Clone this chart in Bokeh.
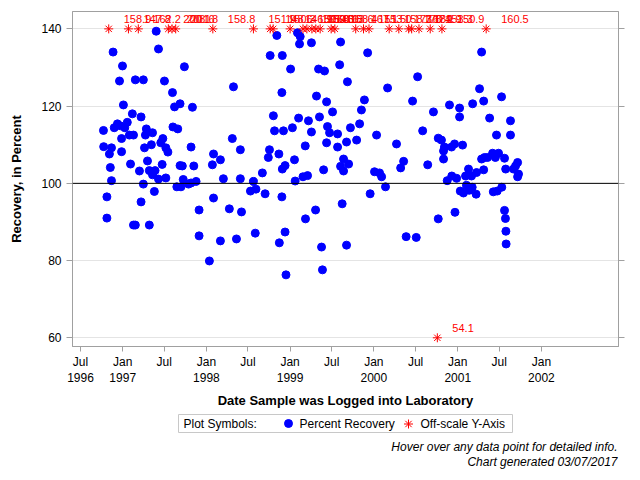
import numpy as np
import pandas as pd
from bokeh.plotting import figure
from bokeh.models import Range1d, FixedTicker, LinearAxis, Span, CustomJSTickFormatter
from bokeh.layouts import column
from bokeh.embed import file_html
from bokeh.resources import INLINE
from bokeh.core.properties import value

FONT = "Liberation Sans"

# ---------------- data ----------------
dates = [
 "1996-10-09","1996-10-10","1996-10-24","1996-10-24","1996-11-04","1996-11-08","1996-11-13","1996-11-13",
 "1996-11-20","1996-11-25","1996-12-09","1996-12-18","1996-12-21","1996-12-27","1996-12-27","1996-12-31",
 "1997-01-04","1997-01-10","1997-01-21","1997-01-30","1997-02-04","1997-02-12","1997-02-17","1997-02-17",
 "1997-02-25","1997-02-25","1997-03-15","1997-03-22","1997-03-22","1997-04-01","1997-04-01","1997-04-06",
 "1997-04-10","1997-04-14","1997-04-19","1997-04-27","1997-04-27","1997-05-06","1997-05-11","1997-05-11",
 "1997-05-19","1997-05-22","1997-05-27","1997-06-06","1997-06-06","1997-06-16","1997-06-22","1997-06-25",
 "1997-07-02","1997-07-08","1997-07-08","1997-07-17","1997-08-06","1997-08-08","1997-08-15","1997-08-25",
 "1997-08-29","1997-09-08","1997-09-08","1997-09-12","1997-09-18","1997-09-22","1997-09-27","1997-10-15",
 "1997-10-26","1997-10-26","1997-11-01","1997-11-07","1997-11-17","1997-11-30","1997-11-30",
 "1998-01-14","1998-01-27","1998-02-01","1998-02-01","1998-03-03","1998-03-03","1998-03-16","1998-04-11",
 "1998-04-24","1998-04-29","1998-05-12","1998-05-29","1998-05-29","1998-06-03","1998-07-12","1998-07-25",
 "1998-08-02","1998-08-05","1998-09-02","1998-09-14","1998-09-28","1998-10-03","1998-10-06","1998-10-20",
 "1998-10-25","1998-11-04","1998-11-13","1998-11-15","1998-11-26","1998-11-26","1998-11-28","1998-11-28",
 "1998-12-03","1998-12-10","1998-12-10","1998-12-14",
 "1999-01-03","1999-01-11","1999-01-20","1999-01-23","1999-02-02","1999-02-07","1999-02-11","1999-02-14",
 "1999-02-26","1999-03-08","1999-03-09","1999-03-18","1999-03-22","1999-04-04","1999-04-04","1999-04-22",
 "1999-04-26","1999-05-05","1999-05-09","1999-05-18","1999-05-22","1999-05-27","1999-05-31","1999-06-09",
 "1999-06-09","1999-06-13","1999-06-22","1999-07-05","1999-07-27","1999-07-27","1999-08-05","1999-08-09",
 "1999-08-09","1999-08-16","1999-08-22","1999-08-22","1999-09-04","1999-09-04","1999-09-08","1999-09-13",
 "1999-09-21","1999-10-18","1999-10-31","1999-11-08","1999-11-21","1999-12-05","1999-12-16",
 "2000-01-04","2000-01-13","2000-01-26","2000-02-04","2000-02-21","2000-03-01","2000-04-09","2000-04-27",
 "2000-05-10","2000-05-21","2000-06-18","2000-07-04","2000-07-10","2000-08-01","2000-08-23","2000-09-17",
 "2000-10-08","2000-10-08","2000-10-22","2000-10-31","2000-10-31","2000-11-04","2000-11-16","2000-11-26",
 "2000-12-05","2000-12-06","2000-12-18","2000-12-20","2000-12-27",
 "2001-01-09","2001-01-09","2001-01-12","2001-01-22","2001-01-26","2001-02-04","2001-02-08","2001-02-17",
 "2001-02-20","2001-03-02","2001-03-05","2001-03-07","2001-03-22","2001-03-24","2001-04-06","2001-04-15",
 "2001-04-15","2001-04-24","2001-04-24","2001-04-28","2001-05-11","2001-05-20","2001-06-02","2001-06-05",
 "2001-06-14","2001-06-15","2001-06-19","2001-06-22","2001-06-28","2001-07-11","2001-07-12","2001-07-24",
 "2001-07-24","2001-07-28","2001-07-29","2001-07-30","2001-07-31","2001-08-19","2001-08-19","2001-09-01",
 "2001-09-10","2001-09-19","2001-09-19","2001-09-23",
]
recovery = [
 113.7,109.5,96.5,91.0,107.6,104.1,109.2,100.7,
 134.0,114.4,115.4,126.5,114.9,111.6,108.2,130.4,
 120.3,114.4,115.8,112.5,105.0,118.0,112.5,89.2,
 126.8,89.2,103.2,117.2,95.2,126.8,99.8,109.2,
 112.5,114.1,105.8,103.3,89.2,110.0,113.1,102.2,
 97.9,103.3,139.4,134.8,101.1,110.5,104.9,111.6,
 126.5,109.2,101.4,108.1,123.5,114.6,119.8,99.1,
 114.1,120.6,104.6,99.1,104.5,101.0,130.2,99.8,
 109.4,100.1,119.7,104.5,100.5,93.1,86.4,
 79.9,104.8,107.6,96.2,106.1,85.1,101.2,93.4,
 111.6,125.0,85.6,108.7,101.2,92.6,98.0,100.5,
 87.1,98.5,102.7,97.3,106.7,108.7,133.1,117.5,
 113.6,138.3,107.6,84.6,123.5,96.5,133.1,103.7,
 113.6,104.6,87.4,76.3,
 129.6,114.4,106.1,100.6,139.0,116.9,136.1,138.0,
 101.7,109.7,90.8,102.0,116.2,136.4,113.3,93.1,
 122.6,129.6,117.2,83.5,77.6,103.5,129.1,121.1,
 110.5,114.7,113.1,118.5,112.8,109.4,130.7,136.6,
 104.4,94.7,106.3,103.2,110.7,84.0,126.3,105.0,
 114.4,111.2,115.4,119.0,121.6,133.8,97.3,
 103.0,112.5,102.7,101.7,99.1,124.7,110.2,104.0,
 105.7,86.2,121.3,86.0,127.6,113.6,104.8,118.5,
 111.7,90.8,111.2,108.4,106.3,109.4,100.7,120.3,
 109.4,101.9,110.2,92.5,101.3,
 119.5,117.2,98.0,109.9,97.5,101.9,99.5,103.7,
 98.2,101.9,99.0,120.6,97.2,102.8,124.5,134.0,
 106.3,121.3,103.5,106.7,106.7,116.9,107.8,97.8,
 106.7,107.4,112.5,98.0,107.8,122.4,99.0,106.5,
 93.0,90.9,103.7,87.6,84.3,116.2,112.5,103.7,
 104.5,105.4,101.7,102.4,
]

# samples whose recovery falls outside the plotted y range
off_dates = [
 "1996-11-01","1997-01-26","1997-03-10","1997-07-19","1997-08-04","1997-08-20","1998-01-29","1998-07-25",
 "1998-10-06","1998-10-19","1999-01-01","1999-02-26","1999-03-15","1999-04-06","1999-04-23","1999-05-12",
 "1999-06-29","1999-07-15","1999-10-14","1999-11-17","1999-12-11","2000-03-08","2000-04-19","2000-06-01",
 "2000-06-14","2000-07-16","2000-09-03","2000-10-04","2000-10-24","2001-05-05",
]
off_values = [
 158.9,147.8,162.2,200.1,208.6,201.8,158.8,151.9,
 148.6,150.3,146.9,150.9,165.0,150.3,168.1,146.8,
 163.6,158.4,167.1,151.5,153.0,158.7,173.8,170.4,
 167.1,189.9,153.3,54.1,150.9,160.5,
]

tick_dates = ["1996-07-01","1997-01-01","1997-07-01","1998-01-01","1998-07-01","1999-01-01",
              "1999-07-01","2000-01-01","2000-07-01","2001-01-01","2001-07-01","2002-01-01"]
tick_labels = ["Jul\n1996","Jan\n1997","Jul","Jan\n1998","Jul","Jan\n1999",
               "Jul","Jan\n2000","Jul","Jan\n2001","Jul","Jan\n2002"]
y_ticks = [60, 80, 100, 120, 140]
y_min, y_max = 57.75, 144.5
x_start, x_end = "1996-05-27", "2002-12-03"
target = 100

legend_title = "Plot Symbols:"
legend_labels = ["Percent Recovery", "Off-scale Y-Axis"]
footnotes = ["Hover over any data point for detailed info.", "Chart generated 03/07/2017"]

# ---------------- derived ----------------
x = pd.to_datetime(dates)
ox = pd.to_datetime(off_dates)
ov = np.array(off_values)
oy = np.clip(ov, 60, 140)
olab = [f"{v:.1f}" for v in ov]
tick_ms = [int(t) for t in (pd.to_datetime(tick_dates).astype("int64") // 10**6)]
label_map = {str(t): l for t, l in zip(tick_ms, tick_labels)}

GRAY = "#a0a0a0"
BLUE = "#0000ff"
RED = "#ff0000"
W = 640
H_MAIN = 412
H_FOOT = 480 - H_MAIN
BL, BR = 72, 22

p = figure(width=W, height=H_MAIN, x_axis_type="datetime",
           x_range=Range1d(pd.Timestamp(x_start), pd.Timestamp(x_end)),
           y_range=Range1d(y_min, y_max),
           output_backend="svg", toolbar_location=None,
           min_border_left=BL, min_border_right=BR, min_border_top=11, min_border_bottom=66)
p.background_fill_color = "white"
p.border_fill_color = "white"
p.outline_line_color = GRAY

p.xgrid.visible = False
p.ygrid.ticker = FixedTicker(ticks=y_ticks)
p.ygrid.grid_line_color = "#e4e4e4"

xa = p.xaxis[0]
xa.ticker = FixedTicker(ticks=tick_ms)
xa.formatter = CustomJSTickFormatter(args=dict(m=label_map),
                                     code="const k = String(Math.round(tick)); return (k in m) ? m[k] : '';")
xa.axis_label = "Date Sample was Logged into Laboratory"
ya = p.yaxis[0]
ya.ticker = FixedTicker(ticks=y_ticks)
ya.axis_label = "Recovery, in Percent"

for ax in (xa, ya):
    ax.axis_line_color = GRAY
    ax.major_tick_line_color = GRAY
    ax.minor_tick_line_color = None
    ax.major_tick_in = 0
    ax.major_tick_out = 6
    ax.major_label_text_font = FONT
    ax.major_label_text_font_size = "12px"
    ax.major_label_text_color = "#000000"
    ax.axis_label_text_font = FONT
    ax.axis_label_text_font_size = "13px"
    ax.axis_label_text_font_style = "bold"
    ax.axis_label_text_color = "#000000"
xa.major_tick_out = 5
xa.major_label_standoff = 3
xa.axis_label_standoff = 5
ya.major_label_standoff = 5
ya.axis_label_standoff = 14

ra = LinearAxis(ticker=FixedTicker(ticks=y_ticks),
                formatter=CustomJSTickFormatter(code="return '';"))
ra.axis_line_color = GRAY
ra.major_tick_line_color = GRAY
ra.minor_tick_line_color = None
ra.major_tick_in = 0
ra.major_tick_out = 6
ra.major_label_standoff = 0
p.add_layout(ra, "right")

p.add_layout(Span(location=target, dimension="width", line_color="black", line_width=1))

p.scatter(x=x, y=recovery, marker="circle", size=8, fill_color=BLUE, line_color=BLUE)
p.scatter(x=ox, y=oy, marker="asterisk", size=9, line_color=RED, line_width=1)
p.text(x=ox, y=oy, text=olab, text_color=RED, text_font=value(FONT), text_font_size="11px",
       text_align="left", text_baseline="middle", x_offset=15, y_offset=-10)

# ---------------- legend & footnotes strip (page-pixel coordinates) ----------------
q = figure(width=W, height=H_FOOT, x_range=Range1d(BL, W - BR), y_range=Range1d(480, H_MAIN),
           output_backend="svg", toolbar_location=None,
           min_border_left=BL, min_border_right=BR, min_border_top=0, min_border_bottom=0,
           x_axis_location=None, y_axis_location=None)
q.grid.visible = False
q.outline_line_color = None
q.background_fill_color = "white"
q.border_fill_color = "white"

q.quad(left=178, right=512, top=414, bottom=432, fill_color="white", line_color="#c8c8c8", line_width=1)
q.text(x=[183, 299, 420], y=[423, 423, 423], text=[legend_title] + legend_labels,
       text_font=value(FONT), text_font_size="12px", text_color="#000000",
       text_align="left", text_baseline="middle")
q.scatter(x=[288], y=[423], marker="circle", size=8, fill_color=BLUE, line_color=BLUE)
q.scatter(x=[408], y=[423.5], marker="asterisk", size=9, line_color=RED, line_width=1)
q.text(x=[617, 617], y=[446.7, 461.7], text=footnotes,
       text_font=value(FONT), text_font_size="12px", text_font_style="italic", text_color="#000000",
       text_align="right", text_baseline="middle")

layout = column(p, q, spacing=0)
open("out.html", "w").write(file_html(layout, INLINE))
